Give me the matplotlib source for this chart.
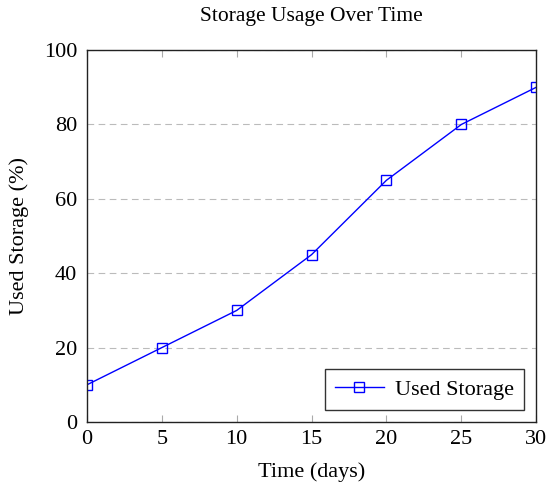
import matplotlib
matplotlib.use("Agg")
import matplotlib.pyplot as plt

days = [0, 5, 10, 15, 20, 25, 30]
used_pct = [10, 20, 30, 45, 65, 80, 90]

plt.rcParams["font.family"] = ["Liberation Serif", "DejaVu Serif"]
plt.rcParams["mathtext.fontset"] = "stix"

fig = plt.figure(figsize=(5.5, 4.91), dpi=100)
ax = fig.add_axes([0.158, 0.1405, 0.817, 0.7575])

ax.plot(days, used_pct, color="blue", linewidth=1.0, marker="s", markersize=6.5,
        markerfacecolor="none", markeredgecolor="blue", markeredgewidth=1.0,
        label="Used Storage")

ax.set_xlim(0, 30)
ax.set_ylim(0, 100)
ax.set_xticks(days)
ax.set_yticks([0, 20, 40, 60, 80, 100])
ax.yaxis.grid(True, color="#bbbbbb", linestyle=(0, (6, 4)), linewidth=0.8)
ax.set_axisbelow(True)

ax.tick_params(direction="in", length=5, color="#aaaaaa", labelsize=16,
               top=True, right=False, pad=6)
ax.tick_params(axis="y", length=0, pad=7)
for s in ax.spines.values():
    s.set_linewidth(1.0)
    s.set_color("#222222")

ax.set_xlabel("Time (days)", fontsize=16, labelpad=9)
ax.set_ylabel("Used Storage (%)", fontsize=16, labelpad=11)
ax.set_title("Storage Usage Over Time", fontsize=15.5, pad=21)

leg = ax.legend(loc="lower right", fontsize=16, frameon=True, fancybox=False,
                edgecolor="black", handlelength=2.2, borderpad=0.45,
                borderaxespad=0.55, handletextpad=0.5)
leg.get_frame().set_linewidth(1.0)

fig.savefig("out.png", dpi=100)
